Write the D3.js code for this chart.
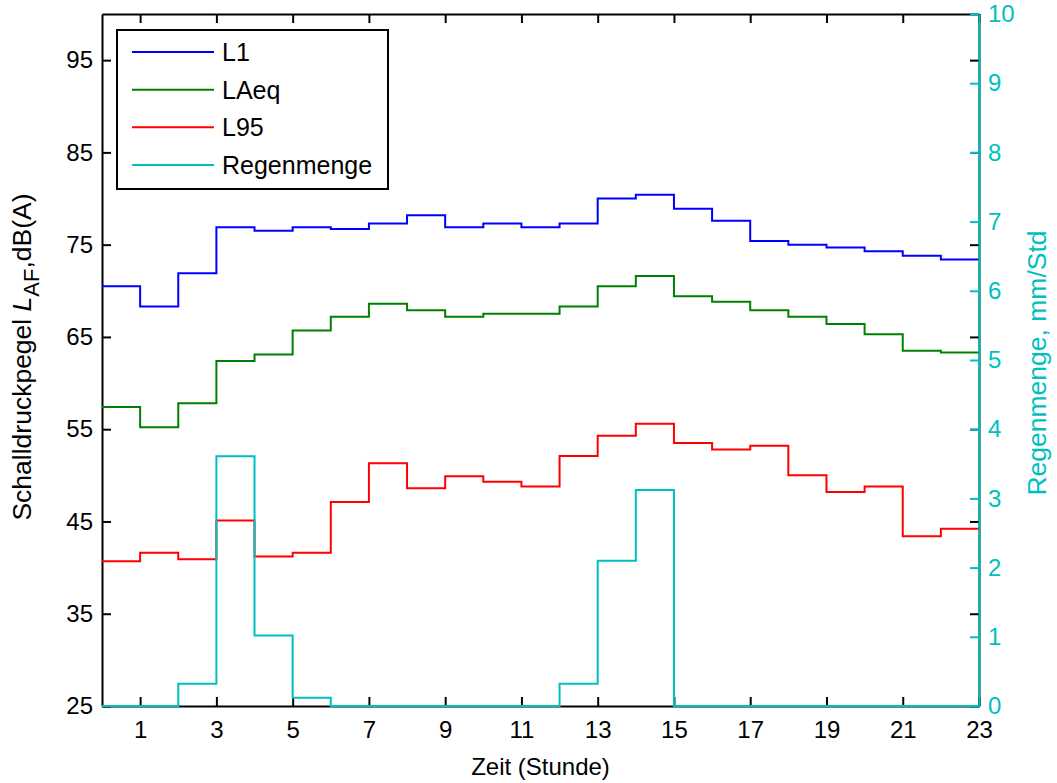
<!DOCTYPE html>
<html>
<head>
<meta charset="utf-8">
<script src="https://cdn.jsdelivr.net/npm/d3@7"></script>
<style>
body { margin: 0; background: #fff; }
text { font-family: "Liberation Sans", Arial, sans-serif; }
</style>
</head>
<body>
<script>
// hours and measured levels
var hours = [0,1,2,3,4,5,6,7,8,9,10,11,12,13,14,15,16,17,18,19,20,21,22];
var l1   = [70.5,68.3,71.9,76.9,76.5,76.9,76.7,77.3,78.2,76.9,77.3,76.9,77.3,80.0,80.4,78.9,77.6,75.4,75.0,74.7,74.3,73.8,73.4];
var laeq = [57.4,55.2,57.8,62.4,63.1,65.7,67.2,68.6,67.9,67.2,67.5,67.5,68.3,70.5,71.6,69.4,68.8,67.9,67.2,66.4,65.3,63.5,63.3];
var l95  = [40.7,41.6,40.9,45.1,41.2,41.6,47.1,51.3,48.6,49.9,49.3,48.8,52.1,54.3,55.6,53.5,52.8,53.2,50.0,48.2,48.8,43.4,44.2];
var regen = [0,0,0.32,3.61,1.02,0.12,0,0,0,0,0,0,0.32,2.1,3.12,0,0,0,0,0,0,0,0];
var xTicks = [1,3,5,7,9,11,13,15,17,19,21,23];
var yTicks = [25,35,45,55,65,75,85,95];
var y2Ticks = [0,1,2,3,4,5,6,7,8,9,10];
var seriesNames = ["L1","LAeq","L95","Regenmenge"];
var colors = ["#0000ff","#008000","#ff0000","#00bfbf"];

var W = 1057, H = 783;
var pL = 102, pR = 979, pT = 14, pB = 706;

var svg = d3.select("body").append("svg")
    .attr("width", W).attr("height", H);

var x = d3.scaleLinear().domain([0,23]).range([pL,pR]);
var y = d3.scaleLinear().domain([25,100]).range([pB,pT]);
var y2 = d3.scaleLinear().domain([0,10]).range([pB,pT]);

function styleAxis(g, col, size) {
    g.selectAll("path.domain").attr("stroke", col).attr("stroke-width", 2);
    g.selectAll(".tick line").attr("stroke", col).attr("stroke-width", 2);
    g.selectAll(".tick text").attr("fill", col).style("font-size", size + "px")
        .style("font-family", "Liberation Sans, Arial, sans-serif");
}

// top border and mirrored ticks
svg.append("g").attr("transform","translate(0," + pT + ")")
    .call(d3.axisTop(x).tickValues(xTicks).tickSizeInner(-9).tickSizeOuter(0).tickFormat(""))
    .call(styleAxis, "#000", 24);
svg.append("g").attr("transform","translate(" + pR + ",0)")
    .call(d3.axisRight(y).tickValues(yTicks).tickSizeInner(-9).tickSizeOuter(0).tickFormat(""))
    .call(styleAxis, "#000", 24);

// bottom axis
svg.append("g").attr("transform","translate(0," + pB + ")")
    .call(d3.axisBottom(x).tickValues(xTicks).tickSizeInner(-9).tickSizeOuter(0).tickPadding(15))
    .call(styleAxis, "#000", 24);

// left axis
svg.append("g").attr("transform","translate(" + pL + ",0)")
    .call(d3.axisLeft(y).tickValues(yTicks).tickSizeInner(-9).tickSizeOuter(0).tickPadding(9))
    .call(styleAxis, "#000", 24);

// step lines
var line = d3.line()
    .x(function(d){ return x(d[0]); })
    .curve(d3.curveStepAfter);

function stepData(vals) {
    var pts = vals.map(function(v,i){ return [hours[i], v]; });
    pts.push([23, vals[vals.length-1]]);
    return pts;
}

[l1, laeq, l95].forEach(function(s, i) {
    svg.append("path")
        .attr("fill","none")
        .attr("stroke", colors[i])
        .attr("stroke-width", 2)
        .attr("d", line.y(function(d){ return y(d[1]); })(stepData(s)));
});
svg.append("path")
    .attr("fill","none")
    .attr("stroke", colors[3])
    .attr("stroke-width", 2)
    .attr("d", line.y(function(d){ return y2(d[1]); })(stepData(regen)));

// right axis (rain)
svg.append("g").attr("transform","translate(" + pR + ",0)")
    .call(d3.axisRight(y2).tickValues(y2Ticks).tickSizeInner(-9).tickSizeOuter(0).tickPadding(9))
    .call(styleAxis, "#00bfbf", 24);

// axis labels
svg.append("text")
    .attr("x", (pL+pR)/2).attr("y", 775)
    .attr("text-anchor","middle")
    .style("font-size","24px")
    .text("Zeit (Stunde)");

var yl = svg.append("text")
    .attr("transform","translate(31," + ((pT+pB)/2 - 3) + ") rotate(-90)")
    .attr("text-anchor","middle")
    .style("font-size","26.5px");
yl.append("tspan").text("Schalldruckpegel ");
yl.append("tspan").style("font-style","italic").text("L");
yl.append("tspan").attr("dy", 8).style("font-size","22px").text("AF");
yl.append("tspan").attr("dy", -8).text(",dB(A)");

svg.append("text")
    .attr("transform","translate(1046," + ((pT+pB)/2 + 3) + ") rotate(-90)")
    .attr("text-anchor","middle")
    .attr("fill","#00bfbf")
    .style("font-size","26.5px")
    .text("Regenmenge, mm/Std");

// legend
var lg = svg.append("g").attr("transform","translate(117,30)");
lg.append("rect")
    .attr("width", 271).attr("height", 159)
    .attr("fill","#fff").attr("stroke","#000").attr("stroke-width",2);
var rowY = d3.scalePoint().domain(seriesNames).range([22, 135]);
seriesNames.forEach(function(n, i) {
    lg.append("line")
        .attr("x1", 15).attr("x2", 97)
        .attr("y1", rowY(n)).attr("y2", rowY(n))
        .attr("stroke", colors[i]).attr("stroke-width", 2);
    lg.append("text")
        .attr("x", 105).attr("y", rowY(n) + 9)
        .style("font-size","25px")
        .text(n);
});
</script>
</body>
</html>
